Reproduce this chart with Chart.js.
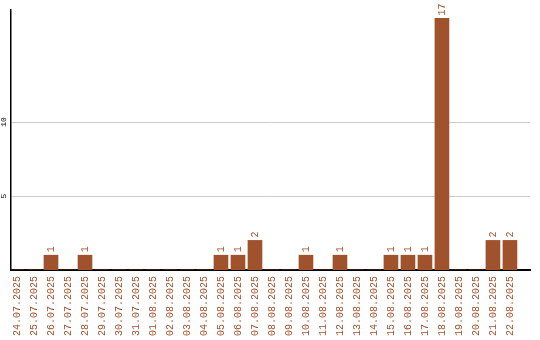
<!DOCTYPE html>
<html>
<head>
<meta charset="utf-8">
<script src="https://cdn.jsdelivr.net/npm/chart.js@4/dist/chart.umd.min.js"></script>
<style>
  html, body { margin: 0; padding: 0; background: #fff; }
  #wrap { width: 540px; height: 340px; }
</style>
</head>
<body>
<div id="wrap"><canvas id="chart" width="540" height="340"></canvas></div>
<script>
const dates = [
  '24.07.2025', '25.07.2025', '26.07.2025', '27.07.2025', '28.07.2025', '29.07.2025',
  '30.07.2025', '31.07.2025', '01.08.2025', '02.08.2025', '03.08.2025', '04.08.2025',
  '05.08.2025', '06.08.2025', '07.08.2025', '08.08.2025', '09.08.2025', '10.08.2025',
  '11.08.2025', '12.08.2025', '13.08.2025', '14.08.2025', '15.08.2025', '16.08.2025',
  '17.08.2025', '18.08.2025', '19.08.2025', '20.08.2025', '21.08.2025', '22.08.2025'
];
const counts = [0, 0, 1, 0, 1, 0, 0, 0, 0, 0, 0, 0, 1, 1, 2, 0, 0, 1, 0, 1, 0, 0, 1, 1, 1, 17, 0, 0, 2, 2];
const yTicks = [5, 10];

const BROWN = '#A0522D';
const MONO = '"Liberation Mono", "DejaVu Sans Mono", monospace';

// rotated value labels above bars, rotated y tick labels
const labelsPlugin = {
  id: 'labels',
  afterDatasetsDraw(chart) {
    const ctx = chart.ctx;
    const x = chart.scales.x, y = chart.scales.y;
    ctx.save();
    ctx.fillStyle = BROWN;
    ctx.font = '10px ' + MONO;
    ctx.textAlign = 'left';
    ctx.textBaseline = 'middle';
    counts.forEach((v, i) => {
      if (!v) return;
      const px = x.getPixelForValue(i);
      const py = y.getPixelForValue(v) - 3;
      ctx.save();
      ctx.translate(px, py);
      ctx.rotate(-Math.PI / 2);
      ctx.fillText(String(v), 0, 0);
      ctx.restore();
    });
    ctx.fillStyle = '#000';
    ctx.font = '8px ' + MONO;
    ctx.textAlign = 'center';
    yTicks.forEach(t => {
      ctx.save();
      ctx.translate(4, y.getPixelForValue(t));
      ctx.rotate(-Math.PI / 2);
      ctx.fillText(String(t), 0, 0);
      ctx.restore();
    });
    ctx.restore();
  }
};

new Chart(document.getElementById('chart'), {
  type: 'bar',
  data: {
    datasets: [{
      data: counts.map((v, i) => ({ x: i, y: v })),
      backgroundColor: BROWN,
      borderWidth: 0,
      barThickness: 14
    }]
  },
  options: {
    responsive: false,
    animation: false,
    layout: { padding: { top: 10, right: 10, left: 0, bottom: 0 } },
    plugins: { legend: { display: false }, tooltip: { enabled: false } },
    scales: {
      x: {
        type: 'linear',
        offset: false,
        min: -0.353,
        max: 30.18,
        afterBuildTicks(scale) { scale.ticks = dates.map((d, i) => ({ value: i })); },
        afterFit(scale) { scale.height = 70; },
        grid: { display: false, drawTicks: false, offset: false },
        border: { color: '#000', width: 2 },
        ticks: {
          autoSkip: false,
          minRotation: 90,
          maxRotation: 90,
          padding: 6,
          color: BROWN,
          font: { family: MONO, size: 10 },
          callback: (v) => dates[v]
        }
      },
      y: {
        min: 0,
        max: 17.57,
        afterBuildTicks(scale) { scale.ticks = yTicks.map(v => ({ value: v })); },
        afterFit(scale) { scale.width = 11; },
        grid: { color: '#cccccc', lineWidth: 1, drawTicks: false },
        border: { color: '#000', width: 1.5 },
        ticks: { display: false }
      }
    }
  },
  plugins: [labelsPlugin]
});
</script>
</body>
</html>
